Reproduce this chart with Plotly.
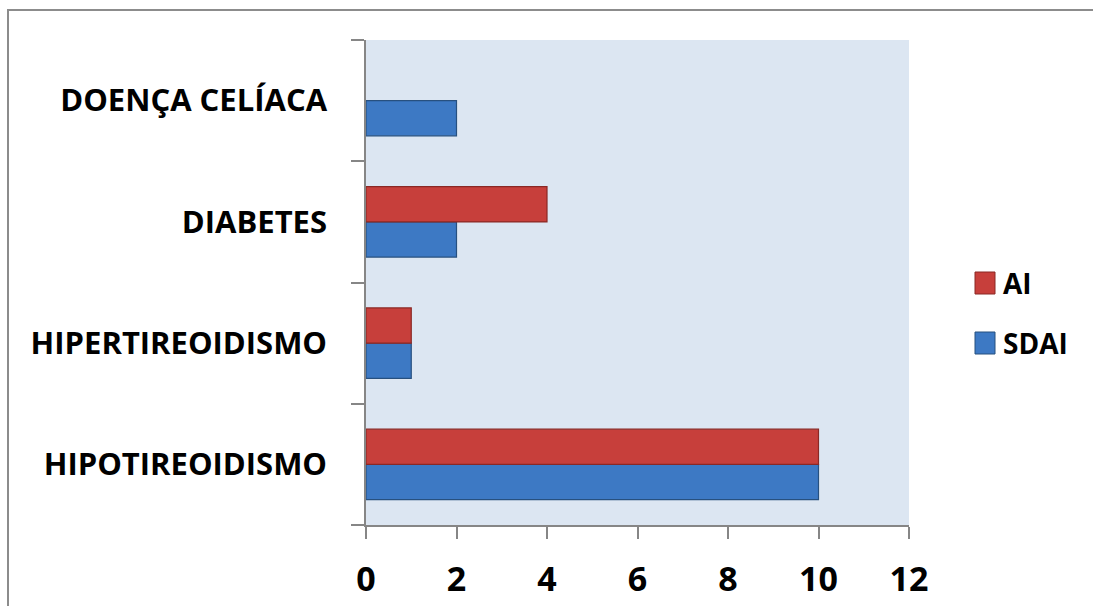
import plotly.graph_objects as go

categories = ["HIPOTIREOIDISMO", "HIPERTIREOIDISMO", "DIABETES", "DOENÇA CELÍACA"]
sdai_values = [10, 1, 2, 2]
ai_values = [10, 1, 4, 0]
x_ticks = [0, 2, 4, 6, 8, 10, 12]

FONT = "Open Sans"
BLUE, BLUE_EDGE = "#3d79c4", "#27507f"
RED, RED_EDGE = "#c73f3b", "#8a2825"

series = [("SDAI", sdai_values, BLUE, BLUE_EDGE), ("AI", ai_values, RED, RED_EDGE)]

fig = go.Figure()
for name, vals, col, edge in series:
    fig.add_trace(go.Bar(
        name=name, y=categories, x=vals, orientation="h",
        marker=dict(color=col,
                    line=dict(color=edge, width=[1.2 if v else 0 for v in vals])),
        showlegend=False,
    ))

PLOT_L, PLOT_R, PLOT_T, PLOT_B = 366, 909, 40, 525
W, H = 1093, 606
pw, ph = PLOT_R - PLOT_L, PLOT_B - PLOT_T

fig.update_layout(
    width=W, height=H,
    margin=dict(l=PLOT_L, r=W - PLOT_R, t=PLOT_T, b=H - PLOT_B, autoexpand=False),
    paper_bgcolor="white",
    plot_bgcolor="#dce6f2",
    barmode="group",
    bargap=0.42,
    bargroupgap=0,
    font=dict(family=FONT, color="black"),
    showlegend=False,
    xaxis=dict(
        range=[0, 12], tickvals=x_ticks, ticktext=[str(v) for v in x_ticks],
        automargin=False,
        showgrid=False, zeroline=False,
        showline=True, linecolor="#868686", linewidth=1.5,
        ticks="outside", ticklen=12, tickcolor="#868686", tickwidth=1.5,
        ticklabelstandoff=11,
        tickfont=dict(family=FONT, size=34, color="black", weight="bold"),
    ),
    yaxis=dict(
        type="category", categoryorder="array", categoryarray=categories,
        automargin=False,
        showgrid=False, zeroline=False,
        showline=True, linecolor="#868686", linewidth=1.5,
        ticks="outside", ticklen=13, tickcolor="#868686", tickwidth=1.5,
        tickson="boundaries",
        ticklabelstandoff=31,
        tickfont=dict(family=FONT, size=31, color="black", weight="bold"),
    ),
)

# legend: swatches and labels at the right of the plot, AI above SDAI
def px_x(x):
    return (x - PLOT_L) / pw

def px_y(y):
    return (PLOT_B - y) / ph

legend_rows = [("AI", RED, RED_EDGE, 283), ("SDAI", BLUE, BLUE_EDGE, 343)]
for label, col, edge, cy in legend_rows:
    fig.add_shape(type="rect", xref="paper", yref="paper",
                  x0=px_x(975), x1=px_x(995), y0=px_y(cy + 11), y1=px_y(cy - 11),
                  fillcolor=col, line=dict(color=edge, width=1))
    fig.add_annotation(xref="paper", yref="paper", x=px_x(1001), y=px_y(cy),
                       text=label, showarrow=False, xanchor="left", yanchor="middle",
                       font=dict(family=FONT, size=28, color="black", weight="bold"))

# outer frame of the chart area
fig.add_shape(
    type="rect", xref="paper", yref="paper",
    x0=px_x(8), x1=px_x(1200), y0=px_y(700), y1=px_y(10),
    line=dict(color="#8c8c8c", width=2), fillcolor="rgba(0,0,0,0)",
    layer="below",
)

fig.write_html("out.html")
